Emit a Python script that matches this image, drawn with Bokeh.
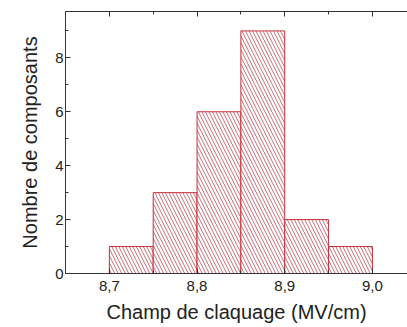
from bokeh.plotting import figure
from bokeh.models import LinearAxis, FixedTicker, Range1d
from bokeh.embed import file_html
from bokeh.resources import INLINE

# Data
bin_left = [8.70, 8.75, 8.80, 8.85, 8.90, 8.95]
bin_right = [8.75, 8.80, 8.85, 8.90, 8.95, 9.00]
counts = [1, 3, 6, 9, 2, 1]

x_ticks = [8.7, 8.8, 8.9, 9.0]
x_tick_labels = ["8,7", "8,8", "8,9", "9,0"]
x_minor = [8.65, 8.75, 8.85, 8.95, 9.05]
y_ticks = [0, 2, 4, 6, 8]
y_minor = [1, 3, 5, 7, 9]

x_title = "Champ de claquage (MV/cm)"
y_title = "Nombre de composants"

FONT = "Liberation Sans"
RED = "#c8303a"

p = figure(width=407, height=327, output_backend="svg", toolbar_location=None,
           x_range=Range1d(8.65, 9.04), y_range=Range1d(0, 9.72),
           x_axis_location=None, y_axis_location=None,
           min_border_left=65, min_border_right=0, min_border_top=11, min_border_bottom=54)
p.outline_line_color = None
p.xgrid.visible = False
p.ygrid.visible = False
p.background_fill_color = "white"
p.border_fill_color = "white"

p.quad(left=bin_left, right=bin_right, bottom=0, top=counts,
       fill_color="white", line_color=RED, line_width=1,
       hatch_pattern="\\", hatch_color="#b84858", hatch_alpha=0.8,
       hatch_scale=7, hatch_weight=1)

def style(ax):
    ax.axis_line_color = "#333333"
    ax.major_tick_line_color = "#333333"
    ax.minor_tick_line_color = "#333333"
    ax.major_tick_in = 5
    ax.major_tick_out = 0
    ax.minor_tick_in = 3
    ax.minor_tick_out = 0
    ax.major_label_text_font = FONT
    ax.major_label_text_font_size = "15px"
    ax.major_label_text_color = "#222222"
    ax.axis_label_text_font = FONT
    ax.axis_label_text_font_size = "20px"
    ax.axis_label_text_font_style = "normal"
    ax.axis_label_text_color = "#222222"

xt = FixedTicker(ticks=x_ticks, minor_ticks=x_minor)
yt = FixedTicker(ticks=y_ticks, minor_ticks=y_minor)

xb = LinearAxis(ticker=xt, axis_label=x_title)
style(xb)
xb.major_label_overrides = {t: l for t, l in zip(x_ticks, x_tick_labels)}
xb.major_label_standoff = 7
xb.axis_label_standoff = 7
p.add_layout(xb, "below")

xa = LinearAxis(ticker=xt)
style(xa)
xa.major_label_overrides = {t: "" for t in x_ticks}
xa.major_label_standoff = 0
p.add_layout(xa, "above")

yl = LinearAxis(ticker=yt, axis_label=y_title)
style(yl)
yl.major_label_standoff = 2
yl.axis_label_standoff = 11
p.add_layout(yl, "left")

open("out.html", "w").write(file_html(p, INLINE))
